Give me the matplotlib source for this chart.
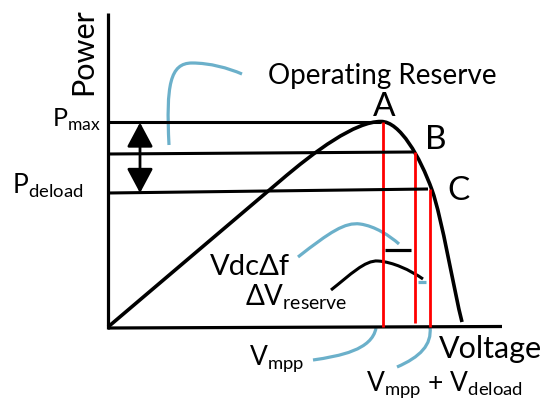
import matplotlib
matplotlib.use("Agg")
import matplotlib.pyplot as plt
from matplotlib.path import Path
from matplotlib.patches import PathPatch, FancyArrowPatch

plt.rcParams['font.family'] = ['Lato', 'DejaVu Sans']
plt.rcParams['mathtext.fontset'] = 'custom'
plt.rcParams['mathtext.rm'] = 'Lato'

# diagram drawn in picture units (x right, y down)
# P-V curve: straight rise, then bezier segments through peak A, B, C and down to Voc
pv_line = [(108, 327), (280, 181)]
pv_knee = [(280, 181), (315, 151), (355, 121.5), (381, 121.5)]
pv_drop = [(381, 121.5), (400, 121.5), (420, 157), (432, 190)]
pv_tail = [(432, 190), (442, 218), (454, 291), (462, 322)]

# operating points A, B, C
op_names = ["A", "B", "C"]
op_v = [383, 415, 430]
op_p = [122, 152, 189]
op_p_left = [122, 154, 193]
op_red_bottom = [327, 323, 327]

axis_origin = (108, 328)
axis_top = 13
axis_right = 502

BLUE = '#6BB0CA'
RED = '#FF0000'

# blue call-out curves (bezier control points)
reserve_brace = [(169, 145), (166, 85), (170, 63), (192, 63), (210, 63), (228, 68), (242, 74)]
vdc_curve = [(298, 257), (330, 232), (345, 222), (360, 224), (375, 226), (390, 236), (399, 244)]
vmpp_curve = [(313, 360), (340, 356), (372, 350), (376, 328)]
vdeload_curve = [(397, 367), (420, 357), (432, 345), (430, 327)]
dvres_arc = [(331, 290), (350, 275), (365, 260), (378, 261), (393, 262), (410, 270), (423, 279)]


def bez(pts, color, lw):
    codes = [Path.MOVETO] + [Path.CURVE4] * (len(pts) - 1)
    ax.add_patch(PathPatch(Path(pts, codes), fill=False, ec=color, lw=lw, capstyle='butt'))


fig = plt.figure(figsize=(5.42, 4.01), dpi=100)
ax = fig.add_axes([0, 0, 1, 1])
ax.set_xlim(0, 542)
ax.set_ylim(401, 0)
ax.axis('off')

# axes
ax.plot([axis_origin[0], axis_origin[0]], [axis_top, axis_origin[1] + 1], color='black', lw=2.3, solid_capstyle='butt')
ax.plot([axis_origin[0], axis_right], [axis_origin[1], 326.5], color='black', lw=2.3, solid_capstyle='butt')

# red voltage markers
for v, p, b in zip(op_v, op_p, op_red_bottom):
    ax.plot([v, v], [p, b], color=RED, lw=2.0, solid_capstyle='butt')

# power levels
for v, p, pl in zip(op_v, op_p, op_p_left):
    ax.plot([axis_origin[0], v - 2], [pl, p], color='black', lw=2.2, solid_capstyle='butt')

# P-V curve
pv_verts = pv_line + pv_knee[1:] + pv_drop[1:] + pv_tail[1:]
pv_codes = [Path.MOVETO, Path.LINETO] + [Path.CURVE4] * 9
ax.add_patch(PathPatch(Path(pv_verts, pv_codes), fill=False, ec='black', lw=2.6,
                       joinstyle='round', capstyle='butt'))

# double arrow for the reserve
arr = FancyArrowPatch((140, op_p_left[0] + 0.5), (140, op_p_left[2]),
                      arrowstyle='<|-|>,head_length=15,head_width=8', mutation_scale=1,
                      shrinkA=0, shrinkB=0, color='black', lw=2.0)
ax.add_patch(arr)

# call-outs
bez(reserve_brace, BLUE, 2.3)
bez(vdc_curve, BLUE, 2.3)
bez(vmpp_curve, BLUE, 2.3)
bez(vdeload_curve, BLUE, 2.3)
bez(dvres_arc, 'black', 2.2)
ax.plot([418, 426], [282, 282], color=BLUE, lw=2.3, solid_capstyle='butt')
ax.plot([385, 411], [250, 250], color='black', lw=2.3, solid_capstyle='butt')

# labels
ax.text(92, 95, "Power", rotation=90, rotation_mode='anchor', ha='left', va='baseline', fontsize=22)
ax.text(268, 84, "Operating Reserve", ha='left', va='baseline', fontsize=20)
ax.text(384, 116, op_names[0], ha='center', va='baseline', fontsize=24)
ax.text(425, 149, op_names[1], ha='left', va='baseline', fontsize=24)
ax.text(447, 200, op_names[2], ha='left', va='baseline', fontsize=24)
ax.text(52, 127, r"P$_{\mathrm{max}}$", ha='left', va='baseline', fontsize=18)
ax.text(12, 193, r"P$_{\mathrm{deload}}$", ha='left', va='baseline', fontsize=19)
ax.text(210, 275, "VdcΔf", ha='left', va='baseline', fontsize=21)
ax.text(245, 305, r"ΔV$_{\mathrm{reserve}}$", ha='left', va='baseline', fontsize=20)
ax.text(249, 365, r"V$_{\mathrm{mpp}}$", ha='left', va='baseline', fontsize=19)
ax.text(439, 358, "Voltage", ha='left', va='baseline', fontsize=22)
ax.text(366, 391, r"V$_{\mathrm{mpp}}$ + V$_{\mathrm{deload}}$", ha='left', va='baseline', fontsize=19)

fig.savefig("out.png", dpi=100)
